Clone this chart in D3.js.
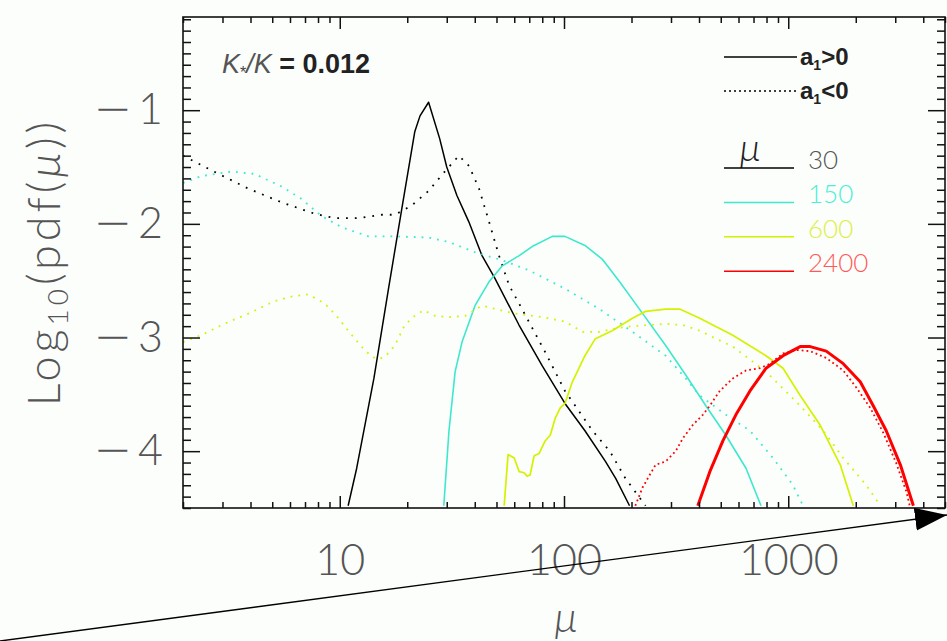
<!doctype html>
<html lang="en">
<head>
<meta charset="utf-8">
<title>pdf of mu</title>
<script src="https://d3js.org/d3.v7.min.js"></script>
<style>
    body { margin: 0; background: #fcfefc; }
    svg { display: block; }
    .thin { font-family: Lato, "Open Sans", sans-serif; font-weight: 300; fill: #555; }
</style>
</head>
<body>
<svg id="svg" width="947" height="641"></svg>
<script>
    // [mu, log10 pdf]
    const mu30Pos = [[10.9, -4.48], [11.9, -4.15], [14.2, -3.36], [16.5, -2.57], [18.9, -1.87], [21.6, -1.19],
        [22.8, -1.05], [24.9, -0.93], [27.9, -1.25], [30.0, -1.50], [33.3, -1.75], [37.6, -1.98], [43.1, -2.28],
        [49.2, -2.48], [63, -2.89], [80, -3.25], [101, -3.58], [124, -3.82], [153, -4.09], [170, -4.24], [196, -4.48]];
    const mu30Neg = [[2.0, -1.40], [2.75, -1.54], [3.91, -1.69], [5.49, -1.81], [7.7, -1.91], [9.5, -1.95],
        [12.1, -1.95], [15.4, -1.92], [17.6, -1.92], [20.9, -1.84], [24.9, -1.71], [29.4, -1.54], [34.0, -1.40],
        [37.7, -1.49], [41.8, -1.69], [46.3, -1.98], [51.3, -2.28], [56.9, -2.54], [65, -2.75], [82, -3.12],
        [101, -3.47], [134, -3.82], [160, -4.00], [188, -4.24], [231, -4.48]];
    const mu150Pos = [[29.1, -4.48], [30.7, -3.82], [32.7, -3.30], [35.1, -3.04], [40.1, -2.72], [46.3, -2.51],
        [53.0, -2.37], [63.1, -2.28], [72.1, -2.20], [88.7, -2.11], [101, -2.11], [124, -2.19], [148, -2.31],
        [177, -2.51], [217, -2.75], [284, -3.07], [349, -3.33], [429, -3.60], [527, -3.86], [648, -4.15], [756, -4.48]];
    const mu150Neg = [[2.0, -1.64], [2.41, -1.58], [3.28, -1.54], [4.16, -1.56], [5.49, -1.67], [6.74, -1.78],
        [8.28, -1.93], [10.2, -2.03], [13.4, -2.11], [17.6, -2.11], [24.9, -2.12], [30.7, -2.16], [40.1, -2.25],
        [53, -2.32], [70, -2.41], [101, -2.57], [144, -2.75], [202, -2.95], [284, -3.16], [349, -3.36], [403, -3.51],
        [527, -3.68], [675, -3.82], [855, -4.06], [1050, -4.30], [1164, -4.48]];
    const mu600Pos = [[54.1, -4.48], [56.3, -4.03], [60.0, -4.06], [63.1, -4.18], [66.4, -4.19], [68.5, -4.22],
        [70.6, -4.21], [73.6, -4.04], [77.5, -4.02], [82.4, -3.91], [86.8, -3.86], [91.4, -3.71], [96.2, -3.62],
        [101, -3.58], [109, -3.39], [124, -3.16], [138, -3.01], [164, -2.94], [202, -2.83], [231, -2.77],
        [284, -2.75], [328, -2.75], [403, -2.83], [566, -2.98], [796, -3.16], [948, -3.27], [1130, -3.51],
        [1387, -3.77], [1706, -4.12], [1950, -4.48]];
    const mu600Neg = [[2.0, -3.04], [2.41, -2.98], [3.05, -2.88], [3.91, -2.79], [5.11, -2.68], [6.08, -2.64],
        [7.25, -2.62], [8.55, -2.70], [9.68, -2.81], [10.9, -2.94], [12.5, -3.08], [13.9, -3.17], [14.9, -3.19],
        [15.9, -3.17], [17.6, -3.07], [19.5, -2.89], [21.6, -2.81], [23.7, -2.76], [26.6, -2.81], [30.7, -2.82],
        [36.2, -2.81], [43.1, -2.72], [60.5, -2.79], [80, -2.82], [101, -2.86], [121, -2.95], [144, -2.95],
        [170, -2.92], [202, -2.90], [284, -2.88], [338, -2.89], [403, -2.94], [475, -3.01], [566, -3.08],
        [796, -3.30], [1130, -3.60], [1432, -3.82], [1759, -4.06], [2228, -4.30], [2575, -4.48]];
    const mu2400Pos = [[395, -4.48], [447, -4.18], [511, -3.91], [584, -3.68], [675, -3.47], [796, -3.27],
        [948, -3.16], [1130, -3.08], [1253, -3.08], [1477, -3.12], [1759, -3.23], [2094, -3.39], [2393, -3.60],
        [2735, -3.82], [3162, -4.12], [3614, -4.48]];
    const mu2400Neg = [[208, -4.48], [224, -4.32], [241, -4.21], [256, -4.12], [284, -4.09], [315, -4.00],
        [338, -3.89], [375, -3.77], [416, -3.68], [447, -3.60], [495, -3.47], [566, -3.36], [648, -3.29],
        [748, -3.27], [829, -3.23], [948, -3.14], [1084, -3.11], [1253, -3.12], [1477, -3.18], [1759, -3.29],
        [2011, -3.44], [2323, -3.62], [2656, -3.84], [3037, -4.11], [3367, -4.36], [3480, -4.48]];

    const muLabels = ["30", "150", "600", "2400"];
    const muColors = ["#000000", "#3de8cc", "#d4f200", "#ff0000"];
    const muTextColors = ["#555555", "#4af0d4", "#dcf040", "#ff5a5a"];
    const xTickValues = [10, 100, 1000];
    const yTickValues = [-1, -2, -3, -4];

    let width = 947, height = 641;
    let margin = { top: 17, right: 2, bottom: 133, left: 183 };
    let xScale, yScale;

    const svg = d3.select("#svg");

    xScale = d3.scaleLog().domain([2, 5000]).range([margin.left, width - margin.right]);
    yScale = d3.scaleLinear().domain([-4.5, -0.18]).range([height - margin.bottom, margin.top]);

    const series = [
        { data: mu30Pos, color: muColors[0], width: 1.5, dash: null },
        { data: mu30Neg, color: muColors[0], width: 1.8, dash: "1.8,7" },
        { data: mu150Neg, color: muColors[1], width: 1.8, dash: "1.8,6" },
        { data: mu150Pos, color: muColors[1], width: 1.6, dash: null },
        { data: mu600Neg, color: muColors[2], width: 1.8, dash: "1.8,6" },
        { data: mu600Pos, color: muColors[2], width: 1.7, dash: null },
        { data: mu2400Neg, color: muColors[3], width: 1.8, dash: "1.8,3" },
        { data: mu2400Pos, color: muColors[3], width: 3, dash: null }
    ];

    const line = d3.line()
        .x(d => xScale(d[0]))
        .y(d => yScale(d[1]));

    svg.append("defs").append("clipPath").attr("id", "plot-clip")
        .append("rect")
        .attr("x", margin.left).attr("y", margin.top)
        .attr("width", width - margin.right - margin.left)
        .attr("height", height - margin.bottom - margin.top);

    svg.append("g").attr("clip-path", "url(#plot-clip)")
        .selectAll("path")
        .data(series)
        .join("path")
        .attr("d", d => line(d.data))
        .attr("fill", "none")
        .attr("stroke", d => d.color)
        .attr("stroke-width", d => d.width)
        .attr("stroke-dasharray", d => d.dash)
        .attr("stroke-linejoin", "round");

    // axes: ticks point inward on all four sides
    const xMinor = xScale.ticks().filter(t => !xTickValues.includes(t));
    const yMinor = yScale.ticks(40).filter(t => !yTickValues.includes(Math.round(t * 10) / 10));
    const yBase = height - margin.bottom, xRight = width - margin.right;

    function tidy(g) {
        g.select(".domain").remove();
        g.selectAll("line").attr("stroke", "#111").attr("stroke-width", 1.5);
    }

    svg.append("g").attr("transform", `translate(0,${yBase})`)
        .call(d3.axisBottom(xScale).tickValues(xMinor).tickSize(-6).tickFormat(""))
        .call(tidy);
    svg.append("g").attr("transform", `translate(0,${yBase})`)
        .call(d3.axisBottom(xScale).tickValues(xTickValues).tickSize(-12).tickPadding(36).tickFormat(d3.format("d")))
        .call(tidy);
    svg.append("g").attr("transform", `translate(0,${margin.top})`)
        .call(d3.axisTop(xScale).tickValues(xMinor).tickSize(-6).tickFormat(""))
        .call(tidy);
    svg.append("g").attr("transform", `translate(0,${margin.top})`)
        .call(d3.axisTop(xScale).tickValues(xTickValues).tickSize(-12).tickFormat(""))
        .call(tidy);

    svg.append("g").attr("transform", `translate(${margin.left},0)`)
        .call(d3.axisLeft(yScale).tickValues(yMinor).tickSize(-8).tickFormat(""))
        .call(tidy);
    const yAxis = svg.append("g").attr("transform", `translate(${margin.left},0)`)
        .call(d3.axisLeft(yScale).tickValues(yTickValues).tickSize(-17).tickPadding(20)
            .tickFormat(d => Math.abs(d)))
        .call(tidy);
    svg.append("g").attr("transform", `translate(${xRight},0)`)
        .call(d3.axisRight(yScale).tickValues(yMinor).tickSize(-8).tickFormat(""))
        .call(tidy);
    svg.append("g").attr("transform", `translate(${xRight},0)`)
        .call(d3.axisRight(yScale).tickValues(yTickValues).tickSize(-17).tickFormat(""))
        .call(tidy);

    svg.selectAll(".tick text")
        .attr("class", "thin")
        .attr("font-size", 43)
        .attr("fill", "#555");

    // long minus sign in front of each y label
    yAxis.selectAll(".tick text").each(function () {
        const t = d3.select(this);
        const digit = t.text();
        t.text("");
        t.append("tspan").attr("font-family", "'DejaVu Sans', sans-serif").attr("font-weight", 200)
            .attr("font-size", 46).text("\u2212");
        t.append("tspan").attr("dx", 6).text(digit);
    });

    svg.append("rect")
        .attr("x", margin.left).attr("y", margin.top)
        .attr("width", xRight - margin.left)
        .attr("height", yBase - margin.top)
        .attr("fill", "none").attr("stroke", "#111").attr("stroke-width", 1.6);

    // axis titles
    svg.append("text").attr("class", "thin")
        .attr("x", 566).attr("y", 632)
        .attr("text-anchor", "middle").attr("font-size", 42).attr("font-style", "italic")
        .text("\u03bc");

    const yTitle = svg.append("text").attr("class", "thin")
        .attr("transform", "translate(60,262) rotate(-90)")
        .attr("text-anchor", "middle").attr("font-size", 45).attr("letter-spacing", 4);
    yTitle.append("tspan").text("Log");
    yTitle.append("tspan").attr("font-size", 28).attr("dy", 8).text("10");
    yTitle.append("tspan").attr("dy", -8).text("(pdf(");
    yTitle.append("tspan").attr("font-style", "italic").text("\u03bc");
    yTitle.append("tspan").text("))");

    // K*/K annotation
    const kText = svg.append("text").attr("x", 222).attr("y", 73).attr("font-size", 27)
        .attr("font-family", "'Liberation Sans', Arial, sans-serif");
    kText.append("tspan").attr("font-style", "italic").attr("fill", "#555").text("K");
    kText.append("tspan").attr("font-size", 16).attr("dy", 5).attr("fill", "#444").text("*");
    kText.append("tspan").attr("dy", -5).attr("font-style", "italic").attr("fill", "#555").text("/K");
    kText.append("tspan").attr("font-weight", "bold").attr("fill", "#222").text(" = 0.012");

    // sign legend
    const signLegend = [{ y: 57, dash: null, op: ">" }, { y: 91, dash: "2,3", op: "<" }];
    signLegend.forEach(s => {
        svg.append("line").attr("x1", 724).attr("x2", 797).attr("y1", s.y).attr("y2", s.y)
            .attr("stroke", "#000").attr("stroke-width", 1.5).attr("stroke-dasharray", s.dash);
        const t = svg.append("text").attr("x", 800).attr("y", s.y + 8).attr("font-size", 24)
            .attr("font-weight", "bold").attr("fill", "#222")
            .attr("font-family", "'Liberation Sans Narrow', 'Liberation Sans', Arial, sans-serif");
        t.append("tspan").text("a");
        t.append("tspan").attr("font-size", 14).attr("dy", 5).text("1");
        t.append("tspan").attr("dy", -5).text(s.op + "0");
    });

    // mu legend
    svg.append("text").attr("class", "thin")
        .attr("x", 750).attr("y", 161).attr("text-anchor", "middle")
        .attr("font-size", 38).attr("font-style", "italic").style("fill", "#222")
        .text("\u03bc");
    muLabels.forEach((lab, i) => {
        const ly = 168 + i * 34.4;
        svg.append("line").attr("x1", 724).attr("x2", 794).attr("y1", ly).attr("y2", ly)
            .attr("stroke", muColors[i]).attr("stroke-width", 1.5);
        svg.append("text").attr("class", "thin")
            .attr("x", 808).attr("y", ly + 1).attr("font-size", 26)
            .style("fill", muTextColors[i])
            .text(lab);
    });

    // annotation arrow drawn across the figure
    svg.append("defs").append("marker").attr("id", "arrowhead")
        .attr("viewBox", "0 0 10 10").attr("refX", 10).attr("refY", 5)
        .attr("markerWidth", 32).attr("markerHeight", 23).attr("markerUnits", "userSpaceOnUse")
        .attr("orient", "auto")
        .attr("preserveAspectRatio", "none")
        .append("path").attr("d", "M0,0L10,5L0,10Z").attr("fill", "#000");
    svg.append("line")
        .attr("x1", 0).attr("y1", 641).attr("x2", 947).attr("y2", 515)
        .attr("stroke", "#000").attr("stroke-width", 1.4)
        .attr("marker-end", "url(#arrowhead)");
</script>
</body>
</html>
